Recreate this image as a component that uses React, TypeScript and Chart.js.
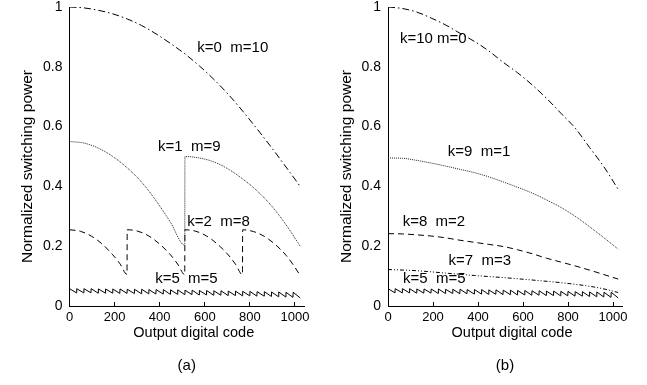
import React, { useEffect, useRef } from "react";
import { Chart, registerables } from "chart.js";

Chart.register(...registerables);

// ---------- shared axis data ----------
const xTicks = [0, 200, 400, 600, 800, 1000];
const yTicks = [0, 0.2, 0.4, 0.6, 0.8, 1];

// ---------- panel (a) ----------
const aK0Codes = [0, 64, 128, 192, 256, 320, 384, 448, 512, 576, 640, 704, 768, 832, 896, 960, 1023];
const aK0Values = [1.0, 0.997, 0.989, 0.977, 0.96, 0.938, 0.91, 0.878, 0.843, 0.803, 0.758, 0.708, 0.652, 0.592, 0.53, 0.465, 0.4];

const aK1Codes = [0, 64, 128, 192, 256, 320, 384, 448, 511, 512, 576, 640, 704, 768, 832, 896, 960, 1023];
const aK1Values = [0.55, 0.545, 0.528, 0.5, 0.462, 0.414, 0.352, 0.28, 0.203, 0.5, 0.495, 0.482, 0.458, 0.425, 0.385, 0.335, 0.272, 0.2];

const aK2Codes = [
  0, 48, 96, 144, 192, 224, 255,
  256, 304, 352, 400, 448, 480, 511,
  512, 560, 608, 656, 704, 736, 767,
  768, 816, 864, 912, 960, 992, 1023,
];
const aK2Values = [
  0.255, 0.25, 0.234, 0.208, 0.171, 0.141, 0.106,
  0.255, 0.25, 0.234, 0.207, 0.171, 0.14, 0.105,
  0.255, 0.25, 0.234, 0.207, 0.171, 0.14, 0.105,
  0.255, 0.249, 0.233, 0.206, 0.17, 0.138, 0.102,
];

// ---------- panel (b) ----------
const bK10Codes = [0, 64, 128, 192, 256, 320, 384, 448, 512, 576, 640, 704, 768, 832, 896, 960, 1023];
const bK10Values = [1.0, 0.995, 0.983, 0.963, 0.94, 0.912, 0.885, 0.853, 0.815, 0.78, 0.74, 0.695, 0.645, 0.595, 0.53, 0.465, 0.39];

const bK9Codes = [0, 64, 128, 192, 256, 320, 384, 448, 512, 576, 640, 704, 768, 832, 896, 960, 1023];
const bK9Values = [0.495, 0.494, 0.487, 0.478, 0.468, 0.457, 0.446, 0.432, 0.415, 0.397, 0.378, 0.355, 0.33, 0.3, 0.265, 0.228, 0.19];

const bK8Codes = [0, 64, 128, 192, 256, 320, 384, 448, 512, 576, 640, 704, 768, 832, 896, 960, 1023];
const bK8Values = [0.242, 0.241, 0.238, 0.234, 0.228, 0.22, 0.213, 0.206, 0.199, 0.188, 0.175, 0.16, 0.147, 0.134, 0.12, 0.105, 0.09];

const bK7Codes = [0, 128, 256, 384, 512, 640, 768, 896, 960, 1023];
const bK7Values = [0.122, 0.118, 0.11, 0.102, 0.095, 0.087, 0.078, 0.066, 0.057, 0.045];

// ---------- k=5 m=5 sawtooth (same in both panels): 32 teeth ----------
const sawPeriod = 32;
const sawPeaks = [
  0.058, 0.058, 0.058, 0.058, 0.057, 0.057, 0.057, 0.057,
  0.056, 0.056, 0.056, 0.055, 0.055, 0.055, 0.054, 0.054,
  0.053, 0.053, 0.052, 0.052, 0.051, 0.051, 0.05, 0.05,
  0.049, 0.049, 0.048, 0.048, 0.047, 0.047, 0.046, 0.046,
];
const sawTroughs = [
  0.044, 0.044, 0.044, 0.043, 0.043, 0.043, 0.042, 0.042,
  0.042, 0.041, 0.041, 0.04, 0.04, 0.039, 0.039, 0.038,
  0.038, 0.037, 0.037, 0.036, 0.036, 0.035, 0.035, 0.034,
  0.034, 0.033, 0.033, 0.032, 0.031, 0.03, 0.029, 0.027,
];

// ---------- annotation texts ----------
const aLabelTexts = ["k=0  m=10", "k=1  m=9", "k=2  m=8", "k=5  m=5"];
const aLabelCodes = [567, 393, 522, 380];
const aLabelValues = [0.862, 0.532, 0.281, 0.09];

const bLabelTexts = ["k=10 m=0", "k=9  m=1", "k=8  m=2", "k=7  m=3", "k=5  m=5"];
const bLabelCodes = [53, 266, 65, 269, 67];
const bLabelValues = [0.895, 0.516, 0.281, 0.152, 0.09];

const FONT = "'Liberation Sans', Arial, Helvetica, sans-serif";

const zip = (codes: number[], vals: number[]) => codes.map((c, i) => ({ x: c, y: vals[i] }));

const sawPoints = () => {
  const pts: { x: number; y: number }[] = [];
  for (let i = 0; i < sawPeaks.length; i++) {
    pts.push({ x: i * sawPeriod, y: sawPeaks[i] });
    pts.push({ x: i * sawPeriod + sawPeriod - 1, y: sawTroughs[i] });
  }
  return pts;
};

const line = (data: any[], dash: number[], smooth = true, color = "#000") => ({
  data,
  borderColor: color,
  borderWidth: 1,
  borderDash: dash,
  pointRadius: 0,
  fill: false,
  cubicInterpolationMode: smooth ? "monotone" : "default",
  tension: 0,
});

const textPlugin = {
  id: "panelText",
  afterDraw(chart: any, _args: any, opts: any) {
    const { ctx, chartArea, scales } = chart;
    ctx.save();
    ctx.fillStyle = "#000";
    ctx.textBaseline = "middle";
    ctx.textAlign = "left";
    ctx.font = `15px ${FONT}`;
    opts.texts.forEach((t: string, i: number) => {
      ctx.fillText(t, scales.x.getPixelForValue(opts.codes[i]), scales.y.getPixelForValue(opts.values[i]));
    });
    const cx = (chartArea.left + chartArea.right) / 2;
    ctx.textAlign = "center";
    ctx.font = `14.5px ${FONT}`;
    ctx.fillText("Output digital code", cx + 7, chartArea.bottom + 27);
    ctx.font = `15px ${FONT}`;
    ctx.fillText(opts.panel, cx, chartArea.bottom + 60);
    ctx.save();
    ctx.translate(chartArea.left - 41.5, (chartArea.top + chartArea.bottom) / 2 + 10);
    ctx.rotate(-Math.PI / 2);
    ctx.font = `15.5px ${FONT}`;
    ctx.fillText("Normalized switching power", 0, 0);
    ctx.restore();
    ctx.restore();
  },
};

function makeConfig(datasets: any[], yAxisWidth: number, rightPad: number, texts: string[], codes: number[], values: number[], panel: string) {
  return {
    type: "line",
    data: { datasets },
    plugins: [textPlugin],
    options: {
      animation: false,
      responsive: false,
      maintainAspectRatio: false,
      layout: { padding: { left: 0, right: rightPad, top: 7, bottom: 0 } },
      plugins: {
        legend: { display: false },
        tooltip: { enabled: false },
        title: { display: false },
        panelText: { texts, codes, values, panel },
      },
      scales: {
        x: {
          type: "linear",
          min: 0,
          max: 1040,
          afterBuildTicks: (s: any) => {
            s.ticks = xTicks.map((v) => ({ value: v }));
          },
          afterFit: (s: any) => {
            s.height = 79;
          },
          grid: { display: true, drawOnChartArea: false, drawTicks: true, tickLength: -4, color: "#000", lineWidth: 1 },
          border: { display: true, color: "#000", width: 1 },
          ticks: { color: "#000", font: { family: FONT, size: 13 }, padding: 8, maxRotation: 0, autoSkip: false, callback: (v: any) => String(v) },
        },
        y: {
          type: "linear",
          min: 0,
          max: 1,
          afterBuildTicks: (s: any) => {
            s.ticks = yTicks.map((v) => ({ value: v }));
          },
          afterFit: (s: any) => {
            s.width = yAxisWidth;
            s.paddingTop = 0;
            s.paddingBottom = 0;
          },
          grid: { display: false, drawTicks: false },
          border: { display: true, color: "#000", width: 1 },
          ticks: { color: "#000", font: { family: FONT, size: 14, lineHeight: 1 }, padding: 7, autoSkip: false, callback: (v: any) => String(v) },
        },
      },
    },
  };
}

function Panel({ width, left, config }: { width: number; left: number; config: () => any }) {
  const ref = useRef<HTMLCanvasElement | null>(null);
  useEffect(() => {
    if (!ref.current) return;
    const chart = new Chart(ref.current, config());
    return () => chart.destroy();
  }, []);
  return (
    <canvas
      ref={ref}
      width={width}
      height={385}
      style={{ position: "absolute", left, top: 0, width, height: 385 }}
    />
  );
}

export default function App() {
  const configA = () =>
    makeConfig(
      [
        line(zip(aK0Codes, aK0Values), [7, 3, 1.5, 3]),
        line(zip(aK1Codes, aK1Values), [1, 1], true, "#222"),
        line(zip(aK2Codes, aK2Values), [6, 4]),
        line(sawPoints(), [], false),
      ],
      69.5,
      19,
      aLabelTexts,
      aLabelCodes,
      aLabelValues,
      "(a)"
    );
  const configB = () =>
    makeConfig(
      [
        line(zip(bK10Codes, bK10Values), [7, 3, 1.5, 3]),
        line(zip(bK9Codes, bK9Values), [1, 1], true, "#222"),
        line(zip(bK8Codes, bK8Values), [6, 4]),
        line(zip(bK7Codes, bK7Values), [4, 2, 1, 2, 1, 2]),
        line(sawPoints(), [], false),
      ],
      65,
      25,
      bLabelTexts,
      bLabelCodes,
      bLabelValues,
      "(b)"
    );
  return (
    <div style={{ position: "absolute", left: 0, top: 0, width: 647, height: 385, background: "#fff" }}>
      <Panel width={323} left={0} config={configA} />
      <Panel width={324} left={323} config={configB} />
    </div>
  );
}
